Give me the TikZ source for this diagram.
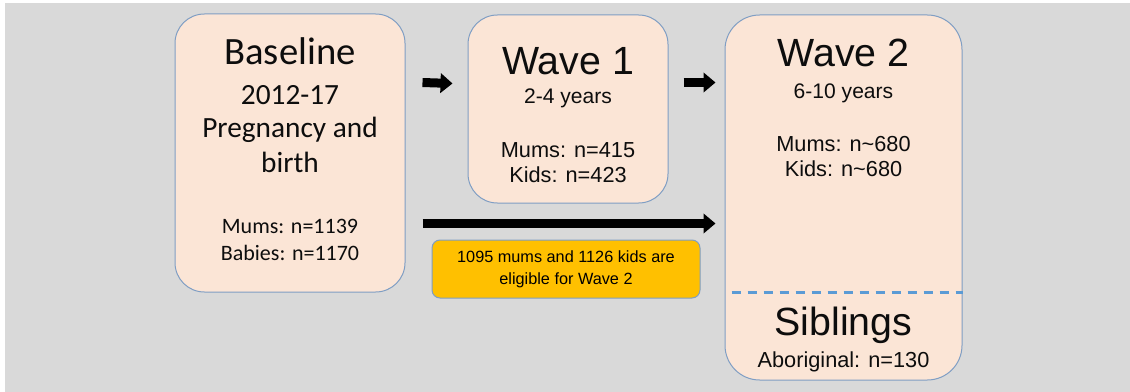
\documentclass[tikz,border=0pt]{standalone}
\usepackage{fontspec}
\setmainfont{Liberation Sans}
\newfontfamily\calibri{Carlito}
\usepackage{tikz}
\usetikzlibrary{arrows.meta,positioning,calc}
\definecolor{bggrey}{HTML}{D9D9D9}
\definecolor{peach}{HTML}{FBE5D6}
\definecolor{edgeblue}{HTML}{7F9EC4}
\definecolor{dashblue}{HTML}{5B9BD5}
\definecolor{noteyellow}{HTML}{FFC000}

\begin{document}
\begin{tikzpicture}[
  x=0.75pt, y=-0.75pt,
  box/.style={rectangle, rounded corners=22pt, draw=edgeblue, line width=0.75pt,
              fill=peach, inner sep=0pt},
  txt/.style={anchor=base, inner sep=0pt, text=black!95},
  bigtitle/.style={txt, font=\fontsize{29.5}{34}\selectfont},
  subline/.style={txt, font=\fontsize{15.8}{18}\selectfont},
  countline/.style={txt, font=\fontsize{16.3}{19}\selectfont},
  flow/.style={line width=6.75pt, -{Triangle[length=9pt, width=14.5pt]}}
]
\useasboundingbox (0,0) rectangle (1130,392);
\fill[bggrey] (5,3) rectangle (1130,392);

% Baseline box
\node[box, minimum width=172.5pt, minimum height=208.5pt] (base) at (290,153) {};
\node[txt, font=\calibri\fontsize{29}{34}\selectfont] (basetitle) at ($(base.north)+(0,51)$) {Baseline};
\node[txt, font=\calibri\fontsize{22}{26}\selectfont] (baseyears) at ($(base.north)+(0,91)$) {2012-17};
\node[txt, font=\calibri\fontsize{22}{26}\selectfont] (basewhat) at ($(base.north)+(0,124)$) {Pregnancy and};
\node[txt, font=\calibri\fontsize{22}{26}\selectfont] (basewhat2) at ($(base.north)+(0,159)$) {birth};
\node[txt, font=\calibri\fontsize{16.5}{19}\selectfont] (basemums) at ($(base.north)+(0,220)$) {Mums: n=1139};
\node[txt, font=\calibri\fontsize{16.5}{19}\selectfont] (basebabies) at ($(base.north)+(0,247)$) {Babies: n=1170};

% Wave 1 box
\node[box, minimum width=150pt, minimum height=141pt] (wave1) at (568,109) {};
\node[bigtitle] (w1title) at ($(wave1.north)+(0,60)$) {Wave 1};
\node[subline] (w1years) at ($(wave1.north)+(0,89)$) {2-4 years};
\node[countline] (w1mums) at ($(wave1.north)+(0,143)$) {Mums: n=415};
\node[countline] (w1kids) at ($(wave1.north)+(0,168)$) {Kids: n=423};

% Wave 2 box
\node[box, rounded corners=26pt, minimum width=177.75pt, minimum height=273.75pt] (wave2) at (843.5,197.5) {};
\node[bigtitle] (w2title) at ($(wave2.north)+(0,52)$) {Wave 2};
\node[subline] (w2years) at ($(wave2.north)+(0,84)$) {6-10 years};
\node[countline] (w2mums) at ($(wave2.north)+(0,137)$) {Mums: n\textasciitilde 680};
\node[countline] (w2kids) at ($(wave2.north)+(0,162)$) {Kids: n\textasciitilde 680};
\draw[dashblue, line width=1.6pt, dash pattern=on 7pt off 5pt]
  ($(wave2.north west)+(7,278)$) -- ($(wave2.north east)+(0,278)$);
\node[bigtitle] (sibtitle) at ($(wave2.south)+(0,-45)$) {Siblings};
\node[countline] (sibcount) at ($(wave2.south)+(0,-13)$) {Aboriginal: n=130};

% Eligibility note
\node[box, rounded corners=6pt, fill=noteyellow, minimum width=201pt, minimum height=43.5pt,
      align=center, font=\fontsize{12.2}{16.5}\selectfont] (note) at (566,269)
  {1095 mums and 1126 kids are\\eligible for Wave 2};

% Arrows
\draw[flow] ($(base.north east)+(17,69)$) -- ($(wave1.north west)+(-15,69)$);
\draw[flow] ($(wave1.north east)+(15,68)$) -- ($(wave2.north west)+(-9,68)$);
\draw[flow] ($(base.north east)+(17,210)$) -- ($(wave2.north west)+(-9,209)$);

\end{tikzpicture}
\end{document}
